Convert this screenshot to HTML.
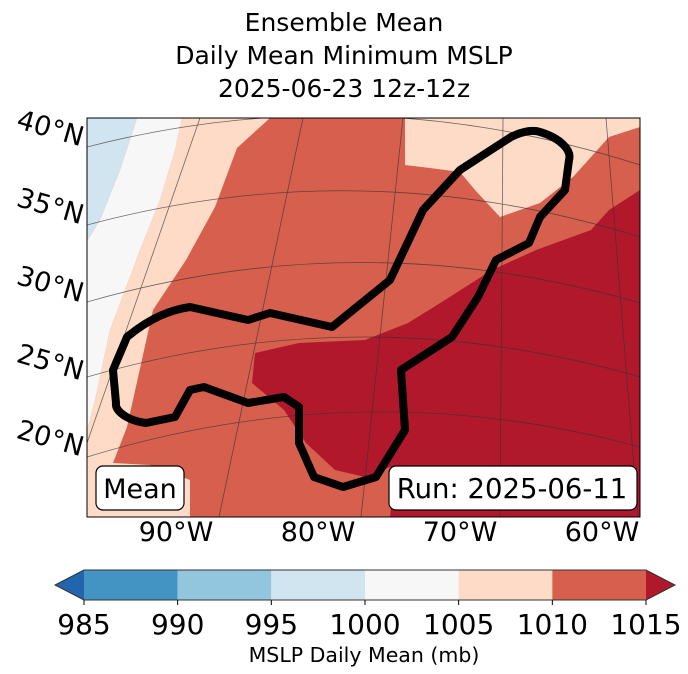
<!DOCTYPE html>
<html><head><meta charset="utf-8"><style>
body{margin:0;background:#fff;}
svg{display:block;font-family:"DejaVu Sans","Liberation Sans",sans-serif;}
</style></head><body>
<svg id="c" width="688" height="674" viewBox="0 0 688 674">
<g font-size="25" text-anchor="middle" fill="#000">
<text x="344" y="31">Ensemble Mean</text>
<text x="344" y="64">Daily Mean Minimum MSLP</text>
<text x="344" y="97">2025-06-23 12z-12z</text>
</g>
<defs><clipPath id="mc"><rect x="87" y="118" width="553" height="399"/></clipPath></defs>
<g id="map" clip-path="url(#mc)">
<rect x="87" y="118" width="553" height="399" fill="#d6604d"/>
<polygon fill="#fddbc7" points="182,118 270,118 237,148 215,207 186,260 153,310 127,427 113,463 150,465 190,480 190,517 87,517 87,431 95,400 110,330 140,250 160,200 175,150"/>
<polygon fill="#f7f7f7" points="137,118 182,118 175,150 160,200 140,250 110,330 95,400 87,431 87,241 100,220 120,170"/>
<polygon fill="#d1e5f0" points="87,118 137,118 120,170 100,220 87,241"/>
<polygon fill="#fddbc7" points="405,118 640,118 640,127 609,137 573,177 540,203 500,217 475,190 460,172 430,168 405,165"/>
<polygon fill="#b2182b" points="640,190 609,210 591,230 536,250 492,270 445,300 408,323 365,340 299,343 255,353 252,383 284,410 306,443 335,470 365,477 390,467 395,470 390,517 640,517"/>
<g id="grid" stroke="#333" stroke-width="0.8" fill="none" opacity="0.7"></g>
<path fill="none" stroke="#000" stroke-width="8" stroke-linejoin="round" d="M127,337 C150,318 170,310 190,307 L248,320 L270,313 L332,327 L390,280 L423,210 L460,170 L511,137 C525,130 535,130 540,132 C560,138 572,150 569,160 L565,190 L540,217 L529,243 L496,260 L478,297 L452,337 L401,370 L405,430 L376,477 L343,487 L314,477 L299,443 L299,407 L284,397 L248,403 L204,387 L190,390 L175,417 L146,423 C125,420 115,410 116,403 L113,370 Z"/>
</g>
<rect x="87" y="118" width="553" height="399" fill="none" stroke="#000" stroke-width="1"/>
<g font-size="27" fill="#000">
<text transform="translate(48,137) rotate(16)" text-anchor="middle">40°N</text>
<text transform="translate(48,215) rotate(16)" text-anchor="middle">35°N</text>
<text transform="translate(48,293) rotate(16)" text-anchor="middle">30°N</text>
<text transform="translate(48,371) rotate(16)" text-anchor="middle">25°N</text>
<text transform="translate(48,447) rotate(16)" text-anchor="middle">20°N</text>
</g>
<g font-size="27" fill="#000" text-anchor="middle">
<text x="176" y="541">90°W</text>
<text x="318" y="541">80°W</text>
<text x="460" y="541">70°W</text>
<text x="602" y="541">60°W</text>
</g>
<g>
<rect x="96" y="466" width="88" height="44" rx="7" fill="#fff" stroke="#000" stroke-width="1.2"/>
<text x="140" y="498" font-size="27" text-anchor="middle">Mean</text>
</g>
<g>
<rect x="389" y="466" width="248" height="44" rx="7" fill="#fff" stroke="#000" stroke-width="1.2"/>
<text x="512" y="498" font-size="27.5" text-anchor="middle">Run: 2025-06-11</text>
</g>
<g id="cbar"></g>
<text x="364" y="662" font-size="20.5" text-anchor="middle">MSLP Daily Mean (mb)</text>
</svg>
<script>
const levels = [985, 990, 995, 1000, 1005, 1010, 1015];
const binColors = ["#4393c3", "#92c5de", "#d1e5f0", "#f7f7f7", "#fddbc7", "#d6604d"];
const underColor = "#2166ac";
const overColor = "#b2182b";
const parallelsLeftY = [147, 225, 302, 377, 457];
const parallelsRightY = [165, 237, 303, 377, 447];
const meridianTopX = [200, 303, 403, 503, 606];
const meridianBotX = [87, 219, 361, 500, 638];

const NS = "http://www.w3.org/2000/svg";
const cb = document.getElementById('cbar');
const x0 = 84, x1 = 646, yT = 570, yB = 600;
const sx = v => x0 + (v - levels[0]) / (levels[levels.length-1] - levels[0]) * (x1 - x0);
for (let i = 0; i < binColors.length; i++) {
  const r = document.createElementNS(NS, 'rect');
  r.setAttribute('x', sx(levels[i])); r.setAttribute('y', yT);
  r.setAttribute('width', sx(levels[i+1]) - sx(levels[i])); r.setAttribute('height', yB - yT);
  r.setAttribute('fill', binColors[i]);
  
  
  cb.appendChild(r);
}
const under = document.createElementNS(NS, 'polygon');
under.setAttribute('points', `${x0},${yT} 55,${(yT+yB)/2} ${x0},${yB}`);
under.setAttribute('fill', underColor);


cb.appendChild(under);
const over = document.createElementNS(NS, 'polygon');
over.setAttribute('points', `${x1},${yT} 675,${(yT+yB)/2} ${x1},${yB}`);
over.setAttribute('fill', overColor);


cb.appendChild(over);
const outline = document.createElementNS(NS, 'polygon');
outline.setAttribute('points', `${x0},${yT} ${x1},${yT} 675,${(yT+yB)/2} ${x1},${yB} ${x0},${yB} 55,${(yT+yB)/2}`);
outline.setAttribute('fill', 'none'); outline.setAttribute('stroke', '#333'); outline.setAttribute('stroke-width', '1');


cb.appendChild(outline);
levels.forEach(v => {
  const l = document.createElementNS(NS, 'line');
  l.setAttribute('x1', sx(v)); l.setAttribute('x2', sx(v)); l.setAttribute('y1', yB); l.setAttribute('y2', yB + 5);
  l.setAttribute('stroke', '#000');
  
  
  cb.appendChild(l);
  const t = document.createElementNS(NS, 'text');
  t.setAttribute('x', sx(v)); t.setAttribute('y', 634);
  t.setAttribute('font-size', '28'); t.setAttribute('text-anchor', 'middle');
  t.textContent = v;
  
  
  cb.appendChild(t);
});
const g = document.getElementById('grid');
for (let i = 0; i < parallelsLeftY.length; i++) {
  const a = parallelsLeftY[i], b = parallelsRightY[i], c = (a + b) / 2 - 80;
  const p = document.createElementNS(NS, 'path');
  p.setAttribute('d', `M87,${a} Q363,${c} 640,${b}`);
  
  
  g.appendChild(p);
}
for (let i = 0; i < meridianTopX.length; i++) {
  const l = document.createElementNS(NS, 'line');
  l.setAttribute('x1', meridianTopX[i]); l.setAttribute('y1', 118);
  l.setAttribute('x2', meridianBotX[i]); l.setAttribute('y2', i === 0 ? 443 : 517);
  
  
  g.appendChild(l);
}
</script>
</body></html>
